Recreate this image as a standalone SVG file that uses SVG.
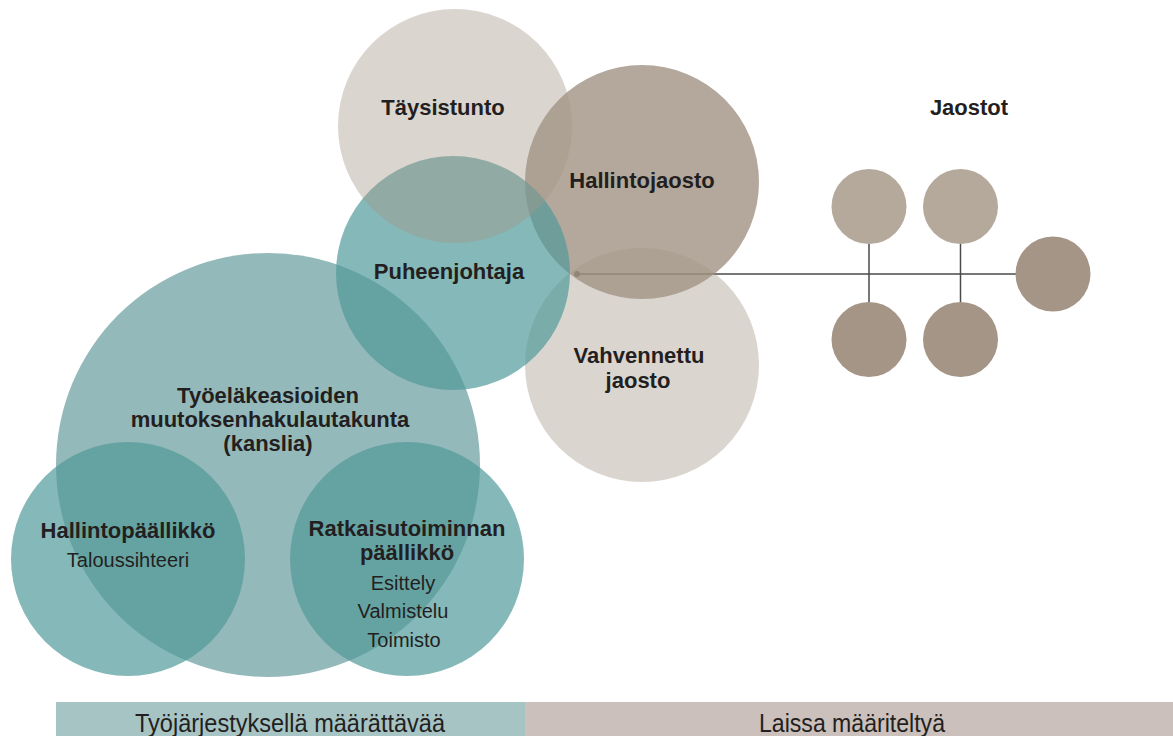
<svg xmlns="http://www.w3.org/2000/svg" width="1173" height="736" viewBox="0 0 1173 736">
<style>
.b{font-family:"Liberation Sans",Arial,sans-serif;font-weight:bold;font-size:22px;fill:#231f20;text-anchor:middle}
.r{font-family:"Liberation Sans",Arial,sans-serif;font-size:20px;fill:#231f20;text-anchor:middle}
.band{font-family:"Liberation Sans",Arial,sans-serif;font-size:26px;fill:#231f20;text-anchor:middle}
.teal{fill:rgb(81,154,154);fill-opacity:0.7}
.beige{fill:rgb(162,150,135);fill-opacity:0.4}
.brown{fill:rgb(155,139,123);fill-opacity:0.75}
.sm1{fill:#b5a99c}
.sm2{fill:#a59587}
.ln{stroke:#4a4a4a;stroke-width:1.5;fill:none}
</style>
<rect width="1173" height="736" fill="#ffffff"/>
<g id="connectors">
<line class="ln" x1="577" y1="274" x2="1016" y2="274"/>
<line class="ln" x1="869" y1="244" x2="869" y2="302"/>
<line class="ln" x1="960.5" y1="244" x2="960.5" y2="302"/>
<circle cx="577" cy="274" r="3" fill="#4a4a4a"/>
</g>
<g id="hallintojaosto">
<circle class="brown" cx="642" cy="182" r="117"/>
</g>
<g id="vahvennettu">
<circle class="beige" cx="642" cy="365" r="117"/>
</g>
<g id="lautakunta">
<circle cx="268" cy="465" r="212" fill="#94b9ba"/>
</g>
<g id="puheenjohtaja">
<circle class="teal" cx="453" cy="273" r="117"/>
</g>
<g id="hallintopaallikko">
<circle class="teal" cx="128" cy="559" r="117"/>
</g>
<g id="ratkaisutoiminnan">
<circle class="teal" cx="407" cy="559" r="117"/>
</g>
<g id="taysistunto">
<circle class="beige" cx="455" cy="126" r="117"/>
</g>
<g id="jaostot">
<circle class="sm1" cx="869" cy="206.5" r="37.5"/>
<circle class="sm1" cx="960.5" cy="206.5" r="37.5"/>
<circle class="sm2" cx="1053" cy="274" r="37.5"/>
<circle class="sm2" cx="869" cy="339.5" r="37.5"/>
<circle class="sm2" cx="960.5" cy="339.5" r="37.5"/>
<text class="b" x="969" y="115">Jaostot</text>
</g>
<g id="labels">
<text class="b" x="443" y="115">Täysistunto</text>
<text class="b" x="642" y="188">Hallintojaosto</text>
<text class="b" x="449" y="279">Puheenjohtaja</text>
<text class="b" x="639" y="363">Vahvennettu</text>
<text class="b" x="638" y="388">jaosto</text>
<text class="b" x="268" y="403">Työeläkeasioiden</text>
<text class="b" x="270" y="427">muutoksenhakulautakunta</text>
<text class="b" x="268" y="451">(kanslia)</text>
<text class="b" x="128" y="538">Hallintopäällikkö</text>
<text class="r" x="128" y="567">Taloussihteeri</text>
<text class="b" x="407" y="536">Ratkaisutoiminnan</text>
<text class="b" x="407" y="560">päällikkö</text>
<text class="r" x="403" y="590">Esittely</text>
<text class="r" x="403" y="618">Valmistelu</text>
<text class="r" x="404" y="647">Toimisto</text>
</g>
<g id="bands">
<rect x="56" y="702" width="469" height="34" fill="#a7c4c5"/>
<rect x="525" y="702" width="648" height="34" fill="#cbc0bb"/>
<text class="band" x="290" y="732" textLength="310" lengthAdjust="spacingAndGlyphs">Työjärjestyksellä määrättävää</text>
<text class="band" x="852" y="732" textLength="186" lengthAdjust="spacingAndGlyphs">Laissa määriteltyä</text>
</g>
</svg>
